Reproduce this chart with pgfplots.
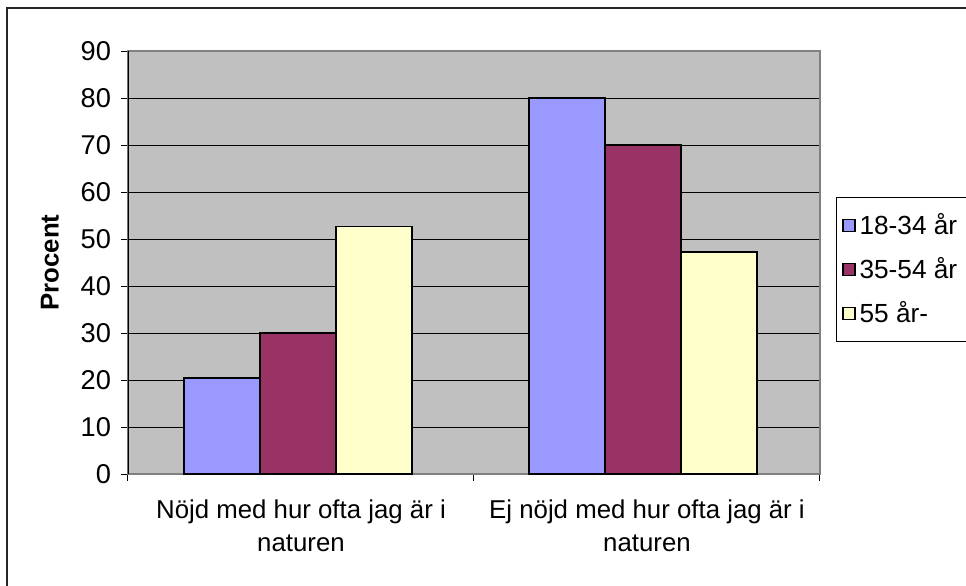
\documentclass[border=0pt]{standalone}
\usepackage{fontspec}
\setmainfont{Liberation Sans}
\usepackage{pgfplots}
\pgfplotsset{compat=1.18}
\definecolor{plotgray}{HTML}{C0C0C0}
\definecolor{serA}{HTML}{9999FF}
\definecolor{serB}{HTML}{993366}
\definecolor{serC}{HTML}{FFFFCC}
\begin{document}
\begin{tikzpicture}
\useasboundingbox (0,0) rectangle (483pt,292.5pt);
% outer chart frame (cut at right and bottom like the reference)
\draw[line width=0.8pt, black!85] (3.5pt,-20pt) -- (3.5pt,288.5pt) -- (520pt,288.5pt);
\begin{axis}[
    at={(64pt,55.5pt)}, anchor=south west,
    scale only axis, width=346pt, height=211.5pt,
    ybar=0pt, bar width=38pt,
    xmin=-0.5, xmax=1.5, ymin=0, ymax=90,
    ytick={0,10,...,90},
    yticklabel style={font=\fontsize{13.6}{15.5}\selectfont, xshift=-1.5pt},
    xtick={-0.5,0.5,1.5}, xticklabels={},
    extra x ticks={0,1},
    extra x tick labels={{Nöjd med hur ofta jag är i\\naturen},{Ej nöjd med hur ofta jag är i\\naturen}},
    extra x tick style={major tick length=0pt, xticklabel style={align=center, yshift=-9.5pt,
        font=\fontsize{12.9}{16.5}\selectfont}},
    tick align=outside, major tick length=3.5pt,
    xtick pos=bottom, ytick pos=left,
    ymajorgrids, grid style={black, line width=0.5pt},
    axis background/.style={fill=plotgray},
    axis line style={gray, line width=0.6pt},
    tick style={black, line width=0.5pt},
    font=\fontsize{12.9}{15.5}\selectfont,
    /pgf/number format/assume math mode=true,
    ylabel={\textbf{Procent}},
    ylabel style={at={(rel axis cs:-0.113,0.5)}, anchor=center},
    legend style={at={(rel axis cs:1.023,0.655)}, anchor=north west,
        draw=black, line width=0.5pt, fill=white, row sep=6pt,
        inner xsep=3pt, inner ysep=6pt,
        font=\fontsize{13.1}{15.5}\selectfont},
    legend cell align=left,
    legend image code/.code={\draw[#1, draw=black, line width=0.6pt] (0pt,-3pt) rectangle (6pt,3pt);},
]
\addplot[fill=serA, draw=black, line width=0.8pt] coordinates {(-0.008,20.4) (0.988,80)};
\addplot[fill=serB, draw=black, line width=0.8pt] coordinates {(-0.008,30) (0.988,70)};
\addplot[fill=serC, draw=black, line width=0.8pt] coordinates {(-0.008,52.7) (0.988,47.2)};
\legend{18-34 år, 35-54 år, 55 år-}
\draw[black, line width=0.6pt] (rel axis cs:0,0) -- (rel axis cs:0,1);
\end{axis}
\end{tikzpicture}
\end{document}
